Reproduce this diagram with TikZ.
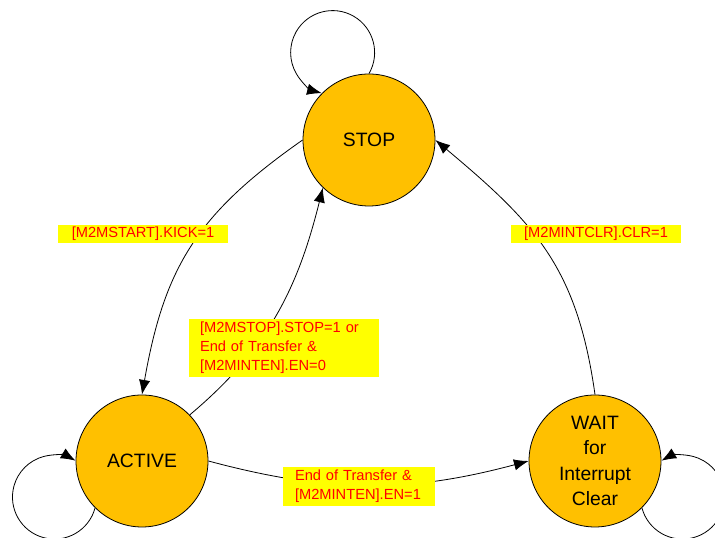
\documentclass[tikz,border=0pt]{standalone}
\usepackage{fontspec}
\setmainfont{Liberation Sans}
\usepackage{xcolor}
\usetikzlibrary{arrows.meta}
\definecolor{stateorange}{HTML}{FFC000}
\definecolor{condyellow}{HTML}{FFFF00}
\tikzstyle{arrow} = [-{Latex[length=11pt,width=8.5pt]}]
\tikzstyle{state} = [circle, draw, fill=stateorange, minimum size=99pt, inner sep=0pt, align=center, font=\fontsize{14.5}{19}\selectfont]
\tikzstyle{cond} = [fill=condyellow, text=red, inner sep=0pt, font=\fontsize{11}{14.25}\selectfont]

\begin{document}
\begin{tikzpicture}[x=0.75pt, y=0.75pt, line width=0.6pt]
		\useasboundingbox (0,0) rectangle (715,538);
		\node[state] (stop) at (369,398) {STOP};
		\node[state] (active) at (142,77) {ACTIVE};
		\node[state] (wait) at (595,77) {WAIT\\for\\Interrupt\\Clear};
		
		\draw [arrow] (stop.180) to[out=215, in=80, looseness=1.1] (active.90);
		\draw [arrow] (active.44) to[out=40, in=256] (stop.226);
		\draw [arrow] (active.0) to[out=-15, in=195] (wait.180);
		\draw [arrow] (wait.90) to[out=98, in=-40, looseness=1.1] (stop.0);
		\draw [arrow] (stop.90) arc[start angle=-30, end angle=255, radius=31.5pt];
		\draw [arrow] (active.225) arc[start angle=-15, end angle=-300, radius=31.5pt];
		\draw [arrow] (wait.315) arc[start angle=195, end angle=480, radius=31.5pt];
		
		\node[cond, minimum width=127.5pt, minimum height=13.5pt] (kick) at (143,304) {[M2MSTART].KICK=1};
		\node[cond, minimum width=127.5pt, minimum height=13.5pt] (clr) at (596,304) {[M2MINTCLR].CLR=1};
		\node[cond, text width=126pt, inner xsep=8pt, minimum height=43.5pt, align=left] (stopen0) at (284,190) {[M2MSTOP].STOP=1 or\\End of Transfer \&\\{}[M2MINTEN].EN=0};
		\node[cond, text width=96pt, inner xsep=9pt, minimum height=29.25pt, align=left] (en1) at (359,51.5) {End of Transfer \&\\{}[M2MINTEN].EN=1};
	\end{tikzpicture}
\end{document}
